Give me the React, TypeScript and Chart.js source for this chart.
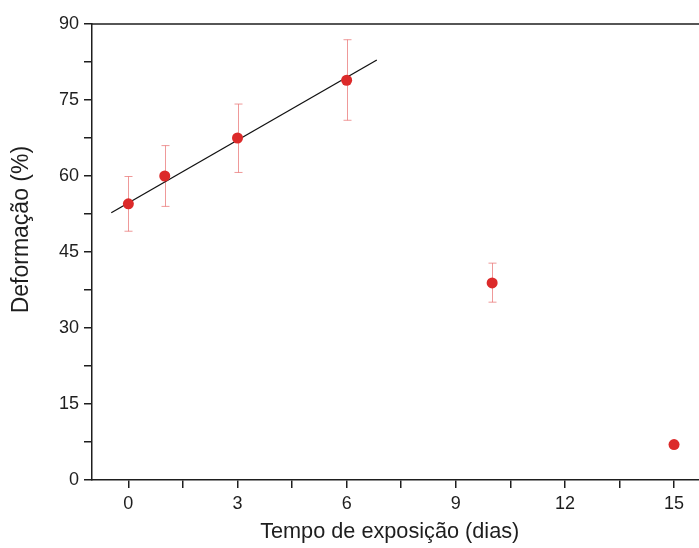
import React, { useEffect, useRef } from 'react';
import { Chart, registerables } from 'chart.js';

Chart.register(...registerables);

// Data
const days = [0, 1, 3, 6, 10, 15];
const deformation = [54.5, 60.0, 67.5, 78.9, 38.9, 7.0];
const errLow = [49.1, 54.0, 60.7, 71.0, 35.1, 7.0];
const errHigh = [59.9, 66.0, 74.2, 86.9, 42.8, 7.0];
const fitX = [-0.47, 6.83];
const fitY = [52.75, 82.9];
const xTicks = [0, 1.5, 3, 4.5, 6, 7.5, 9, 10.5, 12, 13.5, 15];
const yTicks = [0, 7.5, 15, 22.5, 30, 37.5, 45, 52.5, 60, 67.5, 75, 82.5, 90];
const xLabelEvery = 3;
const yLabelEvery = 15;
const xTitle = 'Tempo de exposição (dias)  ';
const yTitle = '       Deformação (%)';

const AXIS_COLOR = '#1e1e1e';
const FONT = '"Liberation Sans", Arial, Helvetica, sans-serif';

const errorBarPlugin = {
  id: 'errorBars',
  beforeDatasetsDraw(chart: any) {
    const { ctx, scales } = chart;
    const xs = scales.x;
    const ys = scales.y;
    ctx.save();
    ctx.strokeStyle = 'rgba(232, 110, 110, 0.7)';
    ctx.lineWidth = 1;
    days.forEach((d, i) => {
      if (errHigh[i] === errLow[i]) return;
      const px = Math.round(xs.getPixelForValue(d)) + 0.5;
      const top = ys.getPixelForValue(errHigh[i]);
      const bot = ys.getPixelForValue(errLow[i]);
      ctx.beginPath();
      ctx.moveTo(px, top);
      ctx.lineTo(px, bot);
      ctx.moveTo(px - 4, top);
      ctx.lineTo(px + 4, top);
      ctx.moveTo(px - 4, bot);
      ctx.lineTo(px + 4, bot);
      ctx.stroke();
    });
    ctx.restore();
  },
};

const topBorderPlugin = {
  id: 'topBorder',
  afterDraw(chart: any) {
    const { ctx, chartArea } = chart;
    ctx.save();
    ctx.strokeStyle = AXIS_COLOR;
    ctx.lineWidth = 1.5;
    ctx.beginPath();
    ctx.moveTo(chartArea.left, chartArea.top);
    ctx.lineTo(chartArea.right + 2, chartArea.top);
    ctx.stroke();
    ctx.restore();
  },
};

export default function App() {
  const canvasRef = useRef<HTMLCanvasElement | null>(null);

  useEffect(() => {
    document.body.style.margin = '0';
    const canvas = canvasRef.current;
    if (!canvas) return;
    const chart = new Chart(canvas, {
      type: 'scatter',
      data: {
        datasets: [
          {
            label: 'fit',
            data: fitX.map((x, i) => ({ x, y: fitY[i] })),
            showLine: true,
            borderColor: '#111111',
            borderWidth: 1.3,
            pointRadius: 0,
            order: 2,
          },
          {
            label: 'Deformação',
            data: days.map((x, i) => ({ x, y: deformation[i] })),
            backgroundColor: '#dc2a2a',
            borderColor: '#dc2a2a',
            borderWidth: 0,
            pointRadius: 5.5,
            order: 1,
          },
        ],
      },
      options: {
        responsive: false,
        animation: false,
        devicePixelRatio: 1,
        layout: { padding: { top: 24, right: 0, left: 0, bottom: 0 } },
        plugins: {
          legend: { display: false },
          tooltip: { enabled: false },
        },
        scales: {
          x: {
            type: 'linear',
            position: 'bottom',
            min: -1,
            max: 15.7,
            afterBuildTicks: (scale: any) => {
              scale.ticks = xTicks.map((value) => ({ value }));
            },
            afterFit: (scale: any) => {
              scale.height = 68;
              scale.paddingLeft = 0;
              scale.paddingRight = 0;
            },
            ticks: {
              autoSkip: false,
              maxRotation: 0,
              padding: 5,
              color: AXIS_COLOR,
              font: { family: FONT, size: 18 },
              callback: (v: any) => (Number(v) % xLabelEvery === 0 ? String(v) : ''),
            },
            grid: {
              drawOnChartArea: false,
              drawTicks: true,
              tickLength: 8,
              color: AXIS_COLOR,
              lineWidth: 1.5,
            },
            border: { display: true, color: AXIS_COLOR, width: 1.5 },
            title: {
              display: true,
              text: xTitle,
              color: AXIS_COLOR,
              font: { family: FONT, size: 21.7 },
              padding: { top: 0, bottom: 3 },
            },
          },
          y: {
            type: 'linear',
            min: 0,
            max: 90,
            afterBuildTicks: (scale: any) => {
              scale.ticks = yTicks.map((value) => ({ value }));
            },
            afterFit: (scale: any) => {
              scale.width = 92;
              scale.paddingTop = 0;
              scale.paddingBottom = 0;
            },
            ticks: {
              autoSkip: false,
              padding: 5,
              color: AXIS_COLOR,
              font: { family: FONT, size: 18 },
              callback: (v: any) => (Number(v) % yLabelEvery === 0 ? String(v) : ''),
            },
            grid: {
              drawOnChartArea: false,
              drawTicks: true,
              tickLength: 8,
              color: AXIS_COLOR,
              lineWidth: 1.5,
            },
            border: { display: true, color: AXIS_COLOR, width: 1.5 },
            title: {
              display: true,
              text: yTitle,
              color: AXIS_COLOR,
              font: { family: FONT, size: 23 },
              padding: { top: 8, bottom: 0 },
            },
          },
        },
      },
      plugins: [errorBarPlugin, topBorderPlugin],
    });
    return () => chart.destroy();
  }, []);

  return (
    <div style={{ position: 'absolute', left: 0, top: 0, width: 699, height: 548, overflow: 'hidden', background: '#fff' }}>
      <canvas ref={canvasRef} width={705} height={548} style={{ width: 705, height: 548, display: 'block' }} />
    </div>
  );
}
